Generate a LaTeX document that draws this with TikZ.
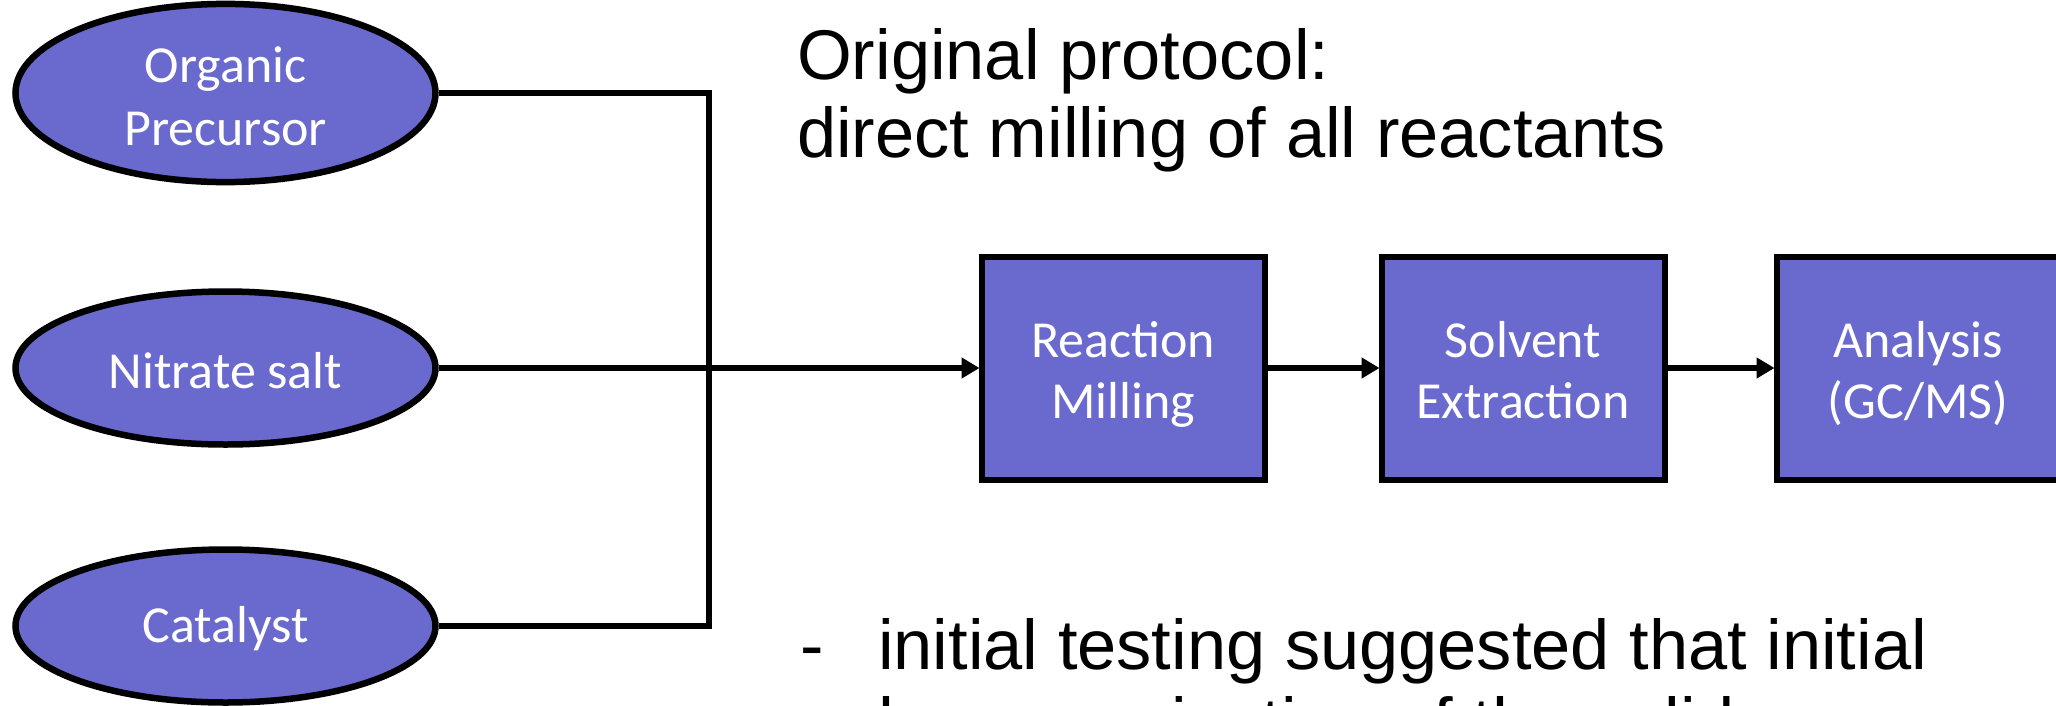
\documentclass[tikz,border=0pt]{standalone}
\usepackage{fontspec}
\setmainfont{Liberation Sans}
\newfontfamily\calib{Carlito}
\usetikzlibrary{shapes.geometric,arrows.meta}
\definecolor{fillc}{RGB}{106,106,206}
\newcommand{\twolines}[2]{\raisebox{-8pt}[\height][\depth]{\begin{tabular}{@{}c@{}}#1\\#2\end{tabular}}}
\newcommand{\oneline}[1]{\raisebox{-3pt}[\height][\depth]{#1}}
\begin{document}
\begin{tikzpicture}[x=1pt,y=-1pt,
  oval/.style={ellipse,draw=black,line width=6.5pt,fill=fillc,minimum width=420pt,minimum height=153pt,inner sep=0pt,text=white,font=\calib\fontsize{52}{63}\selectfont},
  stepbox/.style={rectangle,draw=black,line width=6pt,fill=fillc,minimum width=283pt,minimum height=223pt,inner sep=0pt,text=white,font=\calib\fontsize{52}{61}\selectfont},
  conn/.style={line width=6.5pt},
  arr/.style={conn,-{Triangle[length=18pt,width=20pt]},shorten >=-1pt},
  bigtext/.style={anchor=base west,inner sep=0pt,font=\fontsize{70.4}{78}\selectfont}]
\useasboundingbox (0,0) rectangle (2056,705);
\fill[white] (0,0) rectangle (2056,705);
% inputs
\node[oval] (org) at (225.5,93) {\twolines{Organic}{Precursor}};
\node[oval] (nit) at (225.5,368) {\oneline{Nitrate salt}};
\node[oval] (cat) at (225.5,626) {\oneline{Catalyst}};
% process boxes
\node[stepbox] (react) at (1123,368) {\twolines{Reaction}{Milling}};
\node[stepbox] (solv) at (1523,368) {\twolines{Solvent}{Extraction}};
\node[stepbox] (anal) at (1918,368) {\twolines{Analysis}{(GC/MS)}};
% junction
\coordinate (j) at (709,368);
\draw[conn] (org.east) -| (j);
\draw[conn] (cat.east) -| (j);
\draw[arr] (nit.east) -- (react.west);
\draw[arr] (react.east) -- (solv.west);
\draw[arr] (solv.east) -- (anal.west);
% texts
\node[bigtext] (t1) at (797,79) {Original protocol:};
\node[bigtext] (t2) at (797,157) {direct milling of all reactants};
\node[bigtext] (dash) at (800,669) {-};
\node[bigtext] (b1) at (878,669) {initial testing suggested that initial};
\node[bigtext] (b2) at (878,747) {homogenization of the solid};
\end{tikzpicture}
\end{document}
